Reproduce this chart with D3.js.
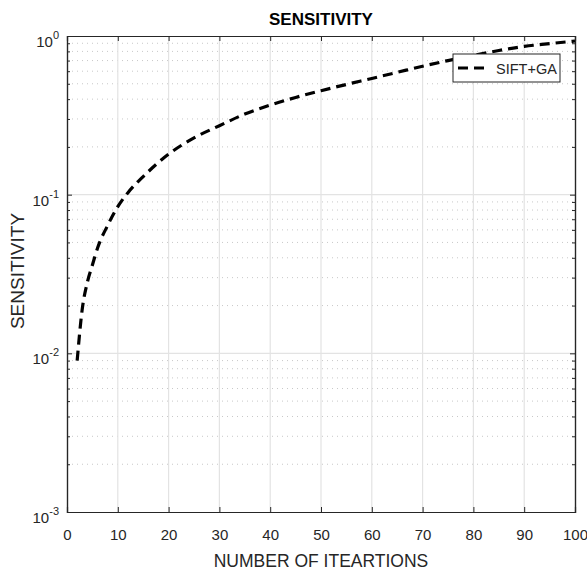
<!DOCTYPE html>
<html>
<head>
<meta charset="utf-8">
<script src="https://cdn.jsdelivr.net/npm/d3@7"></script>
<style>
  body { margin: 0; background: #fff; }
  svg text { font-family: "Liberation Sans", Arial, sans-serif; fill: #262626; }
</style>
</head>
<body>
<svg width="587" height="574"></svg>
<script>
// DATA
var iterations = [2, 3, 4, 5, 6, 8, 10, 12, 15, 20, 25, 30, 35, 40, 45, 50, 55, 60, 65, 70, 75, 80, 85, 90, 95, 100];
var sensitivity = [0.009, 0.019, 0.028, 0.036, 0.046, 0.064, 0.084, 0.103, 0.13, 0.18, 0.228, 0.272, 0.322, 0.367, 0.41, 0.452, 0.495, 0.54, 0.59, 0.645, 0.70, 0.755, 0.81, 0.86, 0.895, 0.93];
var seriesName = "SIFT+GA";
var xTicks = [0, 10, 20, 30, 40, 50, 60, 70, 80, 90, 100];
var yExponents = [-3, -2, -1, 0];

// SETUP
var svg = d3.select("svg"),
    margin = { top: 36, right: 12, bottom: 62, left: 67 },
    width = 587 - margin.left - margin.right,
    height = 574 - margin.top - margin.bottom;

var x = d3.scaleLinear().domain([0, 100]).range([0, width]);
var y = d3.scaleLog().domain([1e-3, 1]).range([height, 0]);

var g = svg.append("g")
  .attr("transform", "translate(" + margin.left + "," + margin.top + ")");

// minor y values (2..9 per decade)
var minorY = [];
yExponents.slice(0, -1).forEach(function (e) {
  for (var k = 2; k <= 9; k++) minorY.push(k * Math.pow(10, e));
});
var majorY = yExponents.map(function (e) { return Math.pow(10, e); });

// GRID
g.append("g").selectAll("line")
  .data(minorY).enter().append("line")
  .attr("x1", 0).attr("x2", width)
  .attr("y1", function (d) { return y(d); })
  .attr("y2", function (d) { return y(d); })
  .attr("stroke", "#c8c8c8")
  .attr("stroke-width", 1)
  .attr("stroke-dasharray", "1,4");

g.append("g").selectAll("line")
  .data(xTicks.slice(1, -1)).enter().append("line")
  .attr("x1", function (d) { return x(d); })
  .attr("x2", function (d) { return x(d); })
  .attr("y1", 0).attr("y2", height)
  .attr("stroke", "#e3e3e3")
  .attr("stroke-width", 1.2);

g.append("g").selectAll("line")
  .data(majorY.slice(1, -1)).enter().append("line")
  .attr("x1", 0).attr("x2", width)
  .attr("y1", function (d) { return y(d); })
  .attr("y2", function (d) { return y(d); })
  .attr("stroke", "#e3e3e3")
  .attr("stroke-width", 1.2);

// AXES
var xAxis = g.append("g")
  .attr("class", "axis axis--x")
  .attr("transform", "translate(0," + height + ")")
  .call(d3.axisBottom(x).tickValues(xTicks).tickSize(-5).tickPadding(17));
xAxis.selectAll("text").style("font-size", "15px");

g.append("g")
  .attr("class", "axis axis--top")
  .call(d3.axisTop(x).tickValues(xTicks).tickSize(-5).tickFormat(""));

g.append("g")
  .attr("class", "axis axis--y")
  .call(d3.axisLeft(y).tickValues(majorY).tickSize(-5).tickFormat(""));

g.append("g")
  .attr("class", "axis axis--yminor")
  .call(d3.axisLeft(y).tickValues(minorY).tickSize(-3).tickFormat(""));

g.append("g")
  .attr("class", "axis axis--right")
  .attr("transform", "translate(" + width + ",0)")
  .call(d3.axisRight(y).tickValues(majorY).tickSize(-5).tickFormat(""));

g.append("g")
  .attr("class", "axis axis--rightminor")
  .attr("transform", "translate(" + width + ",0)")
  .call(d3.axisRight(y).tickValues(minorY).tickSize(-3).tickFormat(""));

g.selectAll(".axis path, .axis line").attr("stroke", "#262626");
g.selectAll(".axis path").attr("stroke-width", 1.2);

// y tick labels with superscript exponents
var yLab = g.append("g").selectAll("text")
  .data(yExponents).enter().append("text")
  .attr("x", -8)
  .attr("y", function (e) { return y(Math.pow(10, e)) + 11; })
  .attr("text-anchor", "end")
  .style("font-size", "15px");
yLab.append("tspan").text("10");
yLab.append("tspan")
  .attr("dy", "-8")
  .style("font-size", "11px")
  .text(function (e) { return e; });

// LINE
var line = d3.line()
  .x(function (d, i) { return x(iterations[i]); })
  .y(function (d) { return y(d); })
  .curve(d3.curveMonotoneX);

g.append("path")
  .datum(sensitivity)
  .attr("fill", "none")
  .attr("stroke", "#000")
  .attr("stroke-width", 3.2)
  .attr("stroke-dasharray", "10,6")
  .attr("d", line);

// LEGEND
var legend = g.append("g").attr("transform", "translate(" + (453 - margin.left) + "," + (54 - margin.top) + ")");
legend.append("rect")
  .attr("width", 107).attr("height", 28)
  .attr("fill", "#fff").attr("stroke", "#262626").attr("stroke-width", 1);
legend.append("line")
  .attr("x1", 5).attr("x2", 35).attr("y1", 14).attr("y2", 14)
  .attr("stroke", "#000").attr("stroke-width", 3.2).attr("stroke-dasharray", "10,6");
legend.append("text")
  .attr("x", 43).attr("y", 19.5)
  .style("font-size", "14.5px")
  .text(seriesName);

// LABELS
svg.append("text")
  .attr("x", margin.left + width / 2)
  .attr("y", 25)
  .attr("text-anchor", "middle")
  .style("font-size", "17px")
  .style("font-weight", "bold")
  .style("fill", "#000")
  .text("SENSITIVITY");

svg.append("text")
  .attr("x", margin.left + width / 2)
  .attr("y", 567)
  .attr("text-anchor", "middle")
  .style("font-size", "17.5px")
  .text("NUMBER OF ITEARTIONS");

svg.append("text")
  .attr("transform", "translate(24,271) rotate(-90)")
  .attr("text-anchor", "middle")
  .style("font-size", "19px")
  .text("SENSITIVITY");
</script>
</body>
</html>
